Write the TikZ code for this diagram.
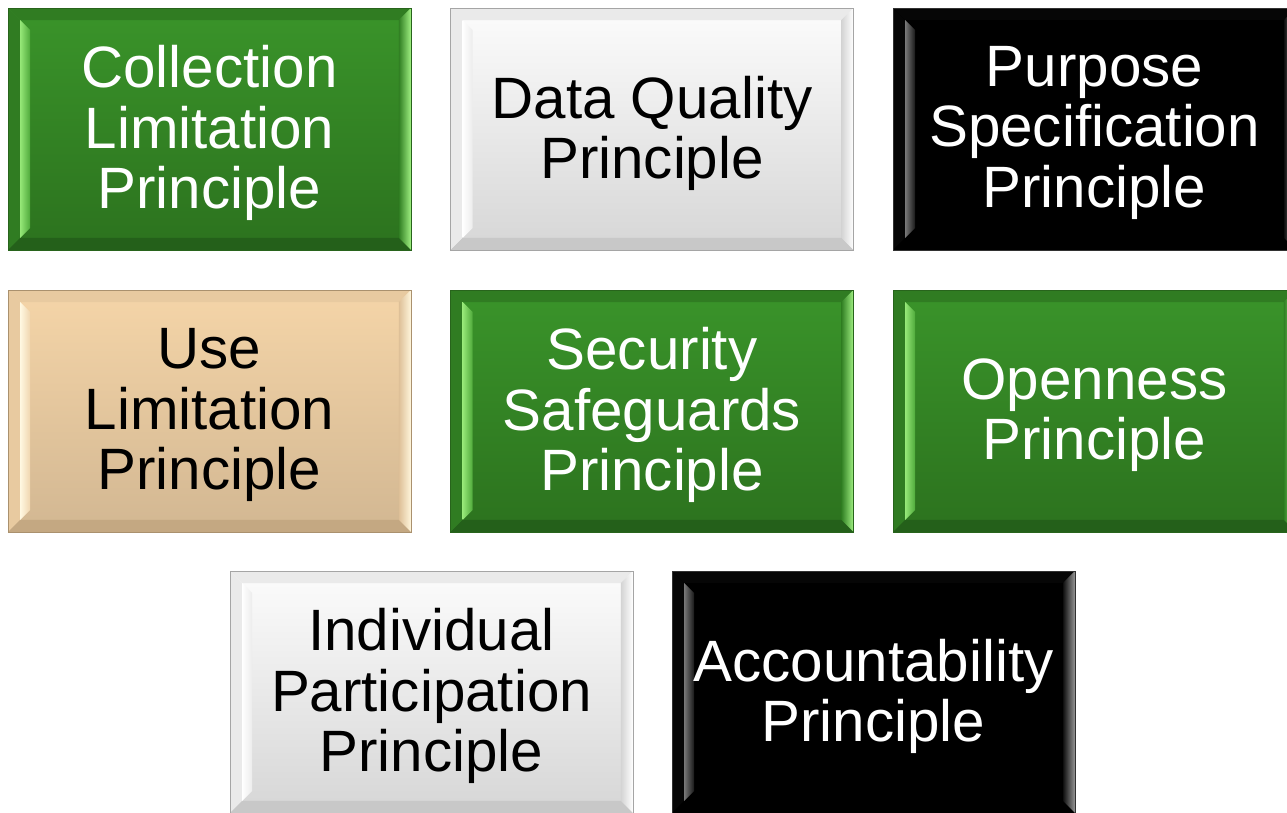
\documentclass[tikz,border=0pt]{standalone}
\usepackage{fontspec}
\setmainfont{Liberation Sans}
\usetikzlibrary{calc,backgrounds}

% colour schemes: main top/bottom, side bands, left face, right face, bottom face, edge
\definecolor{grntop}{RGB}{58,148,42}
\definecolor{grnbot}{RGB}{44,114,30}
\definecolor{grnband}{RGB}{48,124,34}
\definecolor{grnlfa}{RGB}{150,232,120}
\definecolor{grnlfb}{RGB}{80,170,60}
\definecolor{grnrfa}{RGB}{50,128,36}
\definecolor{grnrfb}{RGB}{160,240,130}
\definecolor{grnbf}{RGB}{36,96,26}
\definecolor{grnedge}{RGB}{40,100,28}

\definecolor{whttop}{RGB}{252,252,252}
\definecolor{whtbot}{RGB}{214,214,214}
\definecolor{whtband}{RGB}{234,234,234}
\definecolor{whtlfa}{RGB}{255,255,255}
\definecolor{whtlfb}{RGB}{236,236,236}
\definecolor{whtrfa}{RGB}{212,212,212}
\definecolor{whtrfb}{RGB}{255,255,255}
\definecolor{whtbf}{RGB}{200,200,200}
\definecolor{whtedge}{RGB}{165,165,165}

\definecolor{blktop}{RGB}{0,0,0}
\definecolor{blkbot}{RGB}{0,0,0}
\definecolor{blkband}{RGB}{6,6,6}
\definecolor{blklfa}{RGB}{120,120,120}
\definecolor{blklfb}{RGB}{25,25,25}
\definecolor{blkrfa}{RGB}{15,15,15}
\definecolor{blkrfb}{RGB}{150,150,150}
\definecolor{blkbf}{RGB}{0,0,0}
\definecolor{blkedge}{RGB}{50,50,50}

\definecolor{tantop}{RGB}{245,213,168}
\definecolor{tanbot}{RGB}{210,183,146}
\definecolor{tanband}{RGB}{232,202,160}
\definecolor{tanlfa}{RGB}{255,248,226}
\definecolor{tanlfb}{RGB}{240,214,176}
\definecolor{tanrfa}{RGB}{222,192,152}
\definecolor{tanrfb}{RGB}{255,246,220}
\definecolor{tanbf}{RGB}{196,168,130}
\definecolor{tanedge}{RGB}{170,145,110}

\tikzset{
  bevel/.style={
    rectangle, minimum width=8.06cm, minimum height=4.84cm, inner sep=0pt,
    top color=#1top, bottom color=#1bot, draw=#1edge, line width=0.5pt,
    path picture={
      \coordinate (nw) at (path picture bounding box.north west);
      \coordinate (ne) at (path picture bounding box.north east);
      \coordinate (sw) at (path picture bounding box.south west);
      \coordinate (se) at (path picture bounding box.south east);
      % top and left bands
      \fill[#1band] (nw) -- (ne) -- ($(ne)+(-12,-12)$) -- ($(nw)+(12,-12)$) -- cycle;
      \fill[#1band] (nw) -- ($(nw)+(12,-12)$) -- ($(sw)+(12,12)$) -- (sw) -- cycle;
      % bottom face
      \fill[#1bf] (sw) -- (se) -- ($(se)+(-12,12)$) -- ($(sw)+(12,12)$) -- cycle;
      % left face
      \shade[left color=#1lfa, right color=#1lfb]
        ($(nw)+(12,-12)$) -- ($(nw)+(22,-22)$) -- ($(sw)+(22,22)$) -- ($(sw)+(12,12)$) -- cycle;
      % right face
      \shade[left color=#1rfa, right color=#1rfb]
        (ne) -- (se) -- ($(se)+(-12,12)$) -- ($(ne)+(-12,-12)$) -- cycle;
    }
  },
  boxtext/.style={align=center, inner sep=0pt, font=\fontsize{33.2}{34.2}\selectfont}
}

% a bevelled box with its caption and a soft shadow underneath
\newcommand\bevbox[6]{%
  \node[bevel=#4] (#1) at (#2,#3) {};
  \node[boxtext, text=#5] (#1-label) at ($(#1.center)+(0,-4)$) {#6};
  \begin{scope}[on background layer]
    \foreach \s in {1,...,5}
      \fill[black, opacity=0.045]
        ($(#1.south west)+(0.3*\s,-0.8*\s)$) rectangle ($(#1.north east)+(0.3*\s,-0.8*\s)$);
  \end{scope}
}

\begin{document}
\begin{tikzpicture}[x=0.02cm, y=0.02cm]
  \useasboundingbox (0,0) rectangle (1287,813);
  \fill[white] (0,0) rectangle (1287,813);

  \bevbox{collection}{209.5}{684}{grn}{white}{Collection\\Limitation\\Principle}
  \bevbox{quality}{652}{684}{wht}{black}{Data Quality\\Principle}
  \bevbox{purpose}{1094.5}{684}{blk}{white}{Purpose\\Specification\\Principle}

  \bevbox{use}{209.5}{402}{tan}{black}{Use\\Limitation\\Principle}
  \bevbox{security}{652}{402}{grn}{white}{Security\\Safeguards\\Principle}
  \bevbox{openness}{1094.5}{402}{grn}{white}{Openness\\Principle}

  \bevbox{individual}{431.5}{121}{wht}{black}{Individual\\Participation\\Principle}
  \bevbox{account}{873.5}{121}{blk}{white}{Accountability\\Principle}
\end{tikzpicture}
\end{document}
